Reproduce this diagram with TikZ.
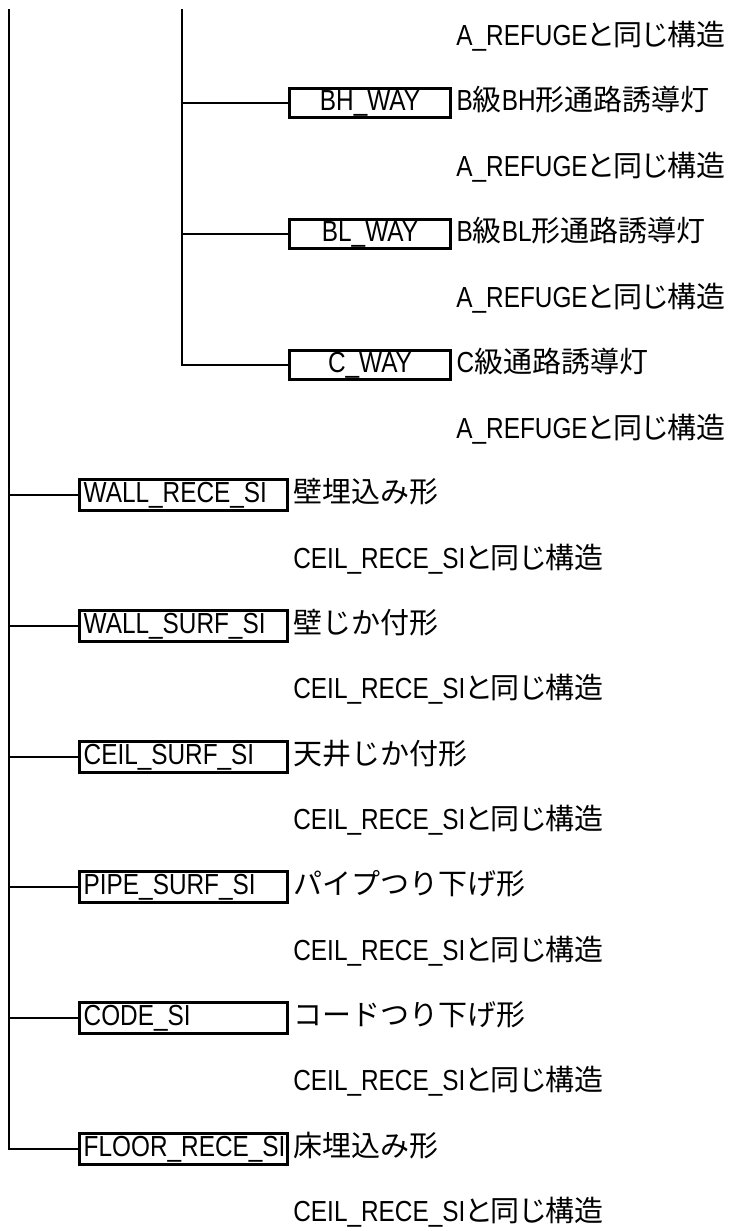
\documentclass[tikz,border=0pt]{standalone}
\usepackage{fontspec}
\setmainfont{Liberation Sans}[FakeStretch=0.84]
\newfontfamily\jp{Noto Sans CJK JP}
\newfontfamily\jpp{Noto Sans CJK JP}[RawFeature=+palt]
\newcommand{\lblfont}{\fontsize{14.5}{14.5}\selectfont}
\tikzset{
    wire/.style={line width=0.65pt},
    waybox/.style={draw, line width=1.6pt, minimum width=80.5pt, minimum height=14.6pt,
        inner sep=0pt, text height=0.75em, text depth=0pt, font=\lblfont},
    sibox/.style={draw, line width=1.6pt, minimum height=15.2pt, text width=99.8pt,
        inner xsep=2.25pt, inner ysep=0pt, align=left, text height=0.75em, text depth=0pt, font=\lblfont},
    note/.style={anchor=west, inner sep=0pt, text height=0.75em, text depth=0pt, font=\lblfont},
}
\begin{document}
\begin{tikzpicture}[x=0.5pt, y=-0.5pt]
    \useasboundingbox (0,0) rectangle (729,1231);
    \coordinate (rootL) at (9,9);
    \coordinate (rootW) at (182,9);

    % way branch
    \node[note] (same0) at (456,38) {A\_REFUGE{\jpp と同じ構造}};
    \node[waybox] (bhway) at (370,103) {BH\_WAY};
    \node[note] (bhdesc) at ([xshift=2pt]bhway.east) {B{\jp 級}BH{\jp 形通路誘導灯}};
    \node[note] (same1) at (456,169) {A\_REFUGE{\jpp と同じ構造}};
    \node[waybox] (blway) at (370,234) {BL\_WAY};
    \node[note] (bldesc) at ([xshift=2pt]blway.east) {B{\jp 級}BL{\jp 形通路誘導灯}};
    \node[note] (same2) at (456,300) {A\_REFUGE{\jpp と同じ構造}};
    \node[waybox] (cway) at (370,365) {C\_WAY};
    \node[note] (cdesc) at ([xshift=2pt]cway.east) {C{\jp 級通路誘導灯}};
    \node[note] (same3) at (456,431) {A\_REFUGE{\jpp と同じ構造}};

    \draw[wire] (rootW) |- (cway.west);
    \draw[wire] (bhway.west) -- (bhway.west -| rootW);
    \draw[wire] (blway.west) -- (blway.west -| rootW);

    % SI branch
    \node[sibox] (wallrece) at (183.5,495) {WALL\_RECE\_SI};
    \node[note] (wallrecedesc) at ([xshift=2pt]wallrece.east) {\jp 壁埋込み形};
    \node[note] (same4) at (293,561) {CEIL\_RECE\_SI{\jpp と同じ構造}};
    \node[sibox] (wallsurf) at (183.5,626) {WALL\_SURF\_SI};
    \node[note] (wallsurfdesc) at ([xshift=2pt]wallsurf.east) {\jp 壁じか付形};
    \node[note] (same5) at (293,691) {CEIL\_RECE\_SI{\jpp と同じ構造}};
    \node[sibox] (ceilsurf) at (183.5,757) {CEIL\_SURF\_SI};
    \node[note] (ceilsurfdesc) at ([xshift=2pt]ceilsurf.east) {\jp 天井じか付形};
    \node[note] (same6) at (293,822) {CEIL\_RECE\_SI{\jpp と同じ構造}};
    \node[sibox] (pipesurf) at (183.5,887) {PIPE\_SURF\_SI};
    \node[note] (pipesurfdesc) at ([xshift=2pt]pipesurf.east) {\jp パイプつり下げ形};
    \node[note] (same7) at (293,953) {CEIL\_RECE\_SI{\jpp と同じ構造}};
    \node[sibox] (code) at (183.5,1018) {CODE\_SI};
    \node[note] (codedesc) at ([xshift=2pt]code.east) {\jp コードつり下げ形};
    \node[note] (same8) at (293,1083) {CEIL\_RECE\_SI{\jpp と同じ構造}};
    \node[sibox] (floorrece) at (183.5,1149) {FLOOR\_RECE\_SI};
    \node[note] (floorrecedesc) at ([xshift=2pt]floorrece.east) {\jp 床埋込み形};
    \node[note] (same9) at (293,1214) {CEIL\_RECE\_SI{\jpp と同じ構造}};

    \draw[wire] (rootL) |- (floorrece.west);
    \draw[wire] (wallrece.west) -- (wallrece.west -| rootL);
    \draw[wire] (wallsurf.west) -- (wallsurf.west -| rootL);
    \draw[wire] (ceilsurf.west) -- (ceilsurf.west -| rootL);
    \draw[wire] (pipesurf.west) -- (pipesurf.west -| rootL);
    \draw[wire] (code.west) -- (code.west -| rootL);
\end{tikzpicture}
\end{document}
